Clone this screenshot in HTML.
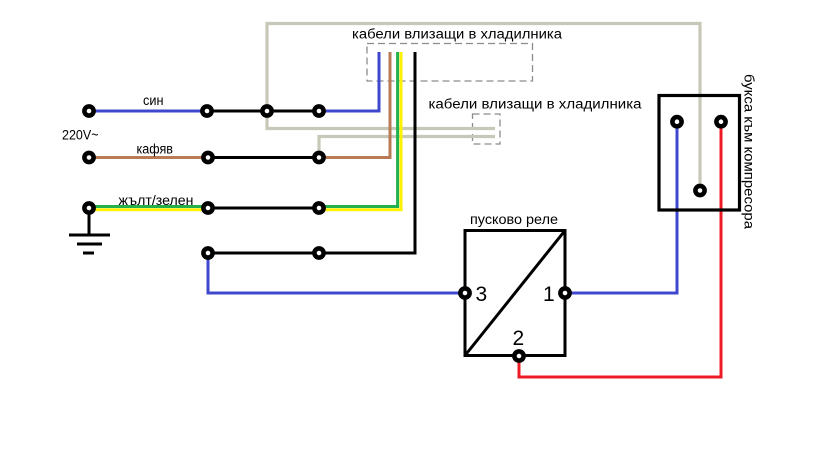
<!DOCTYPE html>
<html>
<head>
<meta charset="utf-8">
<style>
  html,body{margin:0;padding:0;background:#fff;}
  svg{display:block;}
  text{font-family:"Liberation Sans","DejaVu Sans",sans-serif;fill:#000;}
</style>
</head>
<body>
<svg width="819" height="460" viewBox="0 0 819 460" xmlns="http://www.w3.org/2000/svg">
  <rect width="819" height="460" fill="#fff"/>

  <!-- dashed boxes -->
  <rect x="367" y="43.5" width="165.5" height="37.5" fill="none" stroke="#8c8c8c" stroke-width="1.3" stroke-dasharray="7,4"/>
  <rect x="472.5" y="114" width="27.5" height="30" fill="none" stroke="#8c8c8c" stroke-width="1.3" stroke-dasharray="7,4"/>

  <g fill="none" stroke-linejoin="miter" stroke-linecap="butt">
    <!-- gray cables -->
    <polyline points="495,128.5 267,128.5 267,23.5 700,23.5 700,190" stroke="#c8c8b8" stroke-width="3.2"/>
    <polyline points="495,136.5 319,136.5 319,157" stroke="#c8c8b8" stroke-width="3.2"/>

    <!-- row 1 -->
    <line x1="89" y1="111" x2="207" y2="111" stroke="#3f48cc" stroke-width="3"/>
    <line x1="207" y1="111" x2="319" y2="111" stroke="#000" stroke-width="3"/>
    <polyline points="319,111 379,111 379,52" stroke="#3f48cc" stroke-width="3"/>

    <!-- row 2 -->
    <line x1="89" y1="157.5" x2="208" y2="157.5" stroke="#b97a57" stroke-width="3"/>
    <line x1="208" y1="157.5" x2="319" y2="157.5" stroke="#000" stroke-width="3"/>
    <polyline points="319,157.5 390,157.5 390,52" stroke="#b97a57" stroke-width="3"/>

    <!-- row 3 -->
    <line x1="89" y1="206.5" x2="208" y2="206.5" stroke="#22b14c" stroke-width="3"/>
    <line x1="89" y1="209.8" x2="208" y2="209.8" stroke="#fff200" stroke-width="3"/>
    <line x1="208" y1="208" x2="319" y2="208" stroke="#000" stroke-width="3"/>
    <polyline points="319,209.8 401,209.8 401,52" stroke="#fff200" stroke-width="3"/>
    <polyline points="319,206.5 397.6,206.5 397.6,52" stroke="#22b14c" stroke-width="3"/>

    <!-- row 4 -->
    <polyline points="208,253 415,253 415,52" stroke="#000" stroke-width="3"/>
    <polyline points="208,253 208,293 465,293" stroke="#3f48cc" stroke-width="3"/>

    <!-- ground -->
    <line x1="89" y1="208" x2="89" y2="235" stroke="#000" stroke-width="3"/>
    <line x1="69" y1="235" x2="110" y2="235" stroke="#000" stroke-width="3"/>
    <line x1="77" y1="244" x2="102" y2="244" stroke="#000" stroke-width="3"/>
    <line x1="83" y1="253" x2="94" y2="253" stroke="#000" stroke-width="3"/>

    <!-- relay -->
    <rect x="465" y="230.5" width="100" height="125" stroke="#000" stroke-width="3"/>
    <line x1="465" y1="355.5" x2="565" y2="230.5" stroke="#000" stroke-width="3"/>

    <!-- relay to socket wires -->
    <polyline points="565,293 677,293 677,122" stroke="#3f48cc" stroke-width="3"/>
    <polyline points="721,122 721,377 519,377 519,356" stroke="#ed1c24" stroke-width="3"/>

    <!-- socket box -->
    <rect x="659" y="95.5" width="80.5" height="114.5" stroke="#000" stroke-width="3.2"/>
  </g>

  <!-- terminals -->
  <g fill="#fff" stroke="#000" stroke-width="4.6">
    <circle cx="89" cy="111" r="4.6"/>
    <circle cx="207" cy="111" r="4.6"/>
    <circle cx="267" cy="111" r="4.6"/>
    <circle cx="319" cy="111" r="4.6"/>

    <circle cx="89" cy="157.5" r="4.6"/>
    <circle cx="208" cy="157.5" r="4.6"/>
    <circle cx="319" cy="157.5" r="4.6"/>

    <circle cx="89" cy="208" r="4.6"/>
    <circle cx="208" cy="208" r="4.6"/>
    <circle cx="319" cy="208" r="4.6"/>

    <circle cx="208" cy="253" r="4.6"/>
    <circle cx="319" cy="253" r="4.6"/>

    <circle cx="465" cy="293" r="4.6"/>
    <circle cx="565" cy="293" r="4.6"/>
    <circle cx="519" cy="356" r="4.6"/>

    <circle cx="677" cy="121.7" r="4.6"/>
    <circle cx="721" cy="121.7" r="4.6"/>
    <circle cx="700" cy="190.5" r="4.6"/>
  </g>

  <!-- labels -->
  <text x="352" y="38.5" font-size="13.5" textLength="210" lengthAdjust="spacingAndGlyphs">кабели влизащи в хладилника</text>
  <text x="428.5" y="108.5" font-size="13.5" textLength="213" lengthAdjust="spacingAndGlyphs">кабели влизащи в хладилника</text>
  <text x="143" y="105" font-size="13.5" textLength="20.5" lengthAdjust="spacingAndGlyphs">син</text>
  <text x="136.5" y="153.5" font-size="13.5" textLength="36.5" lengthAdjust="spacingAndGlyphs">кафяв</text>
  <text x="118.5" y="205" font-size="13.5" textLength="75" lengthAdjust="spacingAndGlyphs">жълт/зелен</text>
  <text x="62" y="139.5" font-size="13.5" textLength="36.5" lengthAdjust="spacingAndGlyphs">220V~</text>
  <text x="470" y="224" font-size="13.5" textLength="88" lengthAdjust="spacingAndGlyphs">пусково реле</text>

  <text x="475.5" y="301" font-size="21">3</text>
  <text x="543" y="301" font-size="21">1</text>
  <text x="512.5" y="345" font-size="21">2</text>

  <text transform="translate(744.5,74) rotate(90)" font-size="13.5" textLength="155" lengthAdjust="spacingAndGlyphs">букса към компресора</text>
</svg>
</body>
</html>
